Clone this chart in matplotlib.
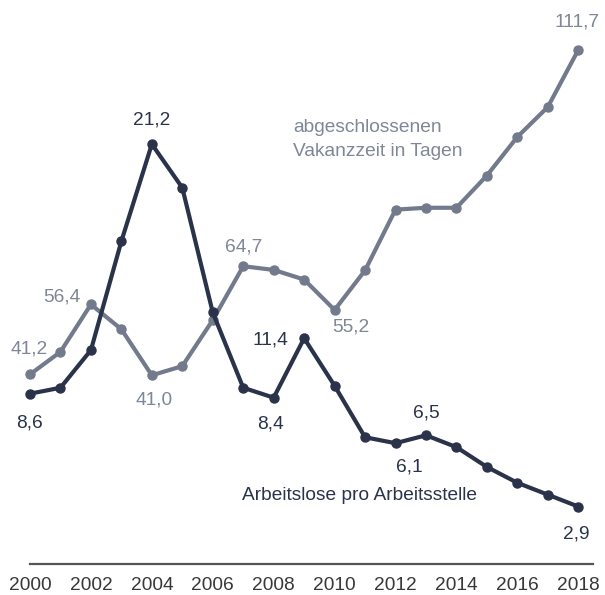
import matplotlib
matplotlib.use("Agg")
import matplotlib.pyplot as plt

plt.rcParams['font.family'] = ['Liberation Sans', 'DejaVu Sans']

years = list(range(2000, 2019))
arbeitslose = [8.6, 8.9, 10.8, 16.3, 21.2, 19.0, 12.7, 8.9, 8.4, 11.4,
               9.0, 6.4, 6.1, 6.5, 5.9, 4.9, 4.1, 3.5, 2.9]
vakanz = [41.2, 46.1, 56.4, 51.0, 41.0, 43.0, 53.0, 64.7, 63.9, 61.8,
          55.2, 63.8, 77.0, 77.4, 77.4, 84.4, 92.8, 99.3, 111.7]
tick_years = list(range(2000, 2019, 2))

# labelled points: (index, text, dx_px, dy_px)
dark_labels = [(0, "8,6", -1, -29), (4, "21,2", 0, 24), (8, "8,4", -3, -26),
               (9, "11,4", -34, -2), (12, "6,1", 14, -24), (13, "6,5", 0, 22),
               (18, "2,9", -2, -27)]
gray_labels = [(0, "41,2", -1, 25), (2, "56,4", -29, 7), (4, "41,0", 2, -25),
               (7, "64,7", 0, 19), (10, "55,2", 16, -17), (18, "111,7", -1, 28)]

DARK = "#2a3349"
GRAY = "#737a8c"
GRAY_TXT = "#7f8697"
FS = 13.8

W, H = 605, 595
fig = plt.figure(figsize=(W / 100, H / 100), dpi=100)
left, right, bottom, top = 30, 593, 564, 20
rect = [left / W, (H - bottom) / H, (right - left) / W, (bottom - top) / H]
ax = fig.add_axes(rect)
ax2 = ax.twinx()

xmax = 2000 + (right - left) / 30.46
for a in (ax, ax2):
    a.set_xlim(2000, xmax)
    for s in a.spines.values():
        s.set_visible(False)
    a.set_yticks([])
    a.patch.set_visible(False)

ax.set_ylim(0, 27.47)
ax2.set_ylim(0, 118.2)

ax.spines['bottom'].set_visible(True)
ax.spines['bottom'].set_color("#555555")
ax.spines['bottom'].set_linewidth(1.6)
ax.set_xticks(tick_years)
ax.set_xticklabels([str(y) for y in tick_years], fontsize=13.8, color="#383838")
ax.tick_params(axis='x', length=0, pad=9)
ax2.tick_params(axis='x', length=0, labelbottom=False)

ax2.plot(years, vakanz, color=GRAY, lw=3.0, marker='o', ms=6.5, clip_on=False, zorder=2)
ax.plot(years, arbeitslose, color=DARK, lw=3.0, marker='o', ms=6.5, clip_on=False, zorder=3)
ax.set_zorder(ax2.get_zorder() + 1)

for i, t, dx, dy in dark_labels:
    ax.annotate(t, (years[i], arbeitslose[i]), xytext=(dx * 0.72, dy * 0.72),
                textcoords='offset points', ha='center', va='center',
                fontsize=FS, color=DARK)
for i, t, dx, dy in gray_labels:
    ax2.annotate(t, (years[i], vakanz[i]), xytext=(dx * 0.72, dy * 0.72),
                 textcoords='offset points', ha='center', va='center',
                 fontsize=FS, color=GRAY_TXT)

fig.text(293 / W, 1 - 128 / H, "abgeschlossenen",
         ha='left', va='center', fontsize=FS, color=GRAY_TXT)
fig.text(293 / W, 1 - 151 / H, "Vakanzzeit in Tagen",
         ha='left', va='center', fontsize=FS, color=GRAY_TXT)
fig.text(360 / W, 1 - 496 / H, "Arbeitslose pro Arbeitsstelle",
         ha='center', va='center', fontsize=FS, color=DARK)

fig.savefig("out.png", dpi=100, facecolor="white")
